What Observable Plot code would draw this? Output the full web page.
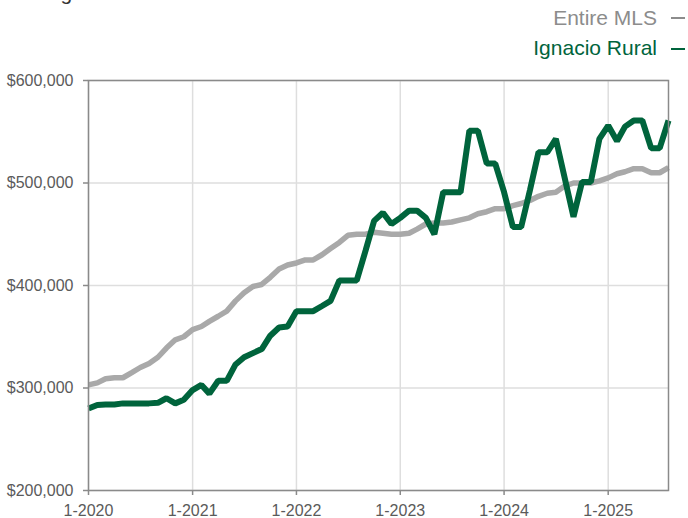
<!DOCTYPE html>
<html>
<head>
<meta charset="utf-8">
<script src="https://cdn.jsdelivr.net/npm/d3@7"></script>
<script src="https://cdn.jsdelivr.net/npm/@observablehq/plot@0.6"></script>
<style>
  html, body { margin: 0; padding: 0; background: #fff; }
  body { width: 688px; height: 518px; position: relative; overflow: hidden; font-family: "Liberation Sans", Arial, sans-serif; }
  #chart { position: absolute; left: 0; top: 0; }
  .title { position: absolute; left: 8px; top: -18px; font-size: 21px; line-height: 21px; color: #333; white-space: nowrap; }
  .leg { position: absolute; right: 31px; font-size: 21px; line-height: 21px; white-space: nowrap; }
  .dash { position: absolute; left: 671px; width: 14px; height: 2px; }
</style>
</head>
<body>
<div class="title">Rolling 12-Month Calculation</div>
<div class="leg" style="top:7px;color:#8c8c8c">Entire MLS</div>
<div class="dash" style="top:17px;background:#8c8c8c"></div>
<div class="leg" style="top:37px;color:#00643c">Ignacio Rural</div>
<div class="dash" style="top:48px;background:#00643c"></div>
<div id="chart"></div>
<script>
// Monthly rolling 12-month median sales price, Jan 2020 – Aug 2025 (in $ thousands)
const startYear = 2020;
const seriesNames = ["Entire MLS", "Ignacio Rural"];
const entireMLS = [
  303, 305, 309, 310, 310, 315, 320, 324, 330, 339, 347, 350,
  357, 360, 365, 370, 375, 385, 393, 399, 401, 408, 416, 420,
  422, 425, 425, 430, 436, 442, 449, 450, 450, 452, 451, 450,
  450, 451, 455, 460, 461, 461, 462, 464, 466, 470, 472, 475,
  475, 478, 480, 483, 487, 490, 491, 497, 500, 500, 500, 502,
  505, 509, 511, 514, 514, 510, 510, 515
];
const ignacioRural = [
  280, 283.5, 284, 284, 285, 285, 285, 285, 285.5, 290, 285, 288.5,
  298, 303, 294.5, 307, 307, 323, 330, 334, 338, 351, 359, 360,
  375, 375, 375, 380, 385, 405, 405, 405, 434, 463, 471, 460,
  466, 473, 473, 466, 450, 491, 491, 491, 551, 551, 519, 519,
  491, 457, 457, 493, 530, 530, 543, 505, 467, 501, 501, 543,
  556, 541, 555, 561, 561, 534, 534, 561
];
const yTicks = [200000, 300000, 400000, 500000, 600000];
const xTickYears = [2020, 2021, 2022, 2023, 2024, 2025];

const monthDate = i => new Date(Date.UTC(startYear, i, 1));
const rows = [];
entireMLS.forEach((v, i) => rows.push({series: seriesNames[0], date: monthDate(i), value: v * 1000}));
ignacioRural.forEach((v, i) => rows.push({series: seriesNames[1], date: monthDate(i), value: v * 1000}));
const xTicks = xTickYears.map(y => new Date(Date.UTC(y, 0, 1)));
const xFmt = d => `1-${d.getUTCFullYear()}`;
const yFmt = d3.format("$,.0f");

const chart = Plot.plot({
  width: 688,
  height: 518,
  marginLeft: 88,
  marginRight: 20,
  marginTop: 80,
  marginBottom: 28,
  style: {fontFamily: "Liberation Sans, Arial, sans-serif", fontSize: "16px", color: "#5a5a5a", background: "transparent", overflow: "visible"},
  x: {type: "utc", domain: [monthDate(0), monthDate(entireMLS.length - 1)], label: null},
  y: {domain: [200000, 600000], label: null},
  marks: [
    Plot.gridX(xTicks, {stroke: "#dedede", strokeOpacity: 1, strokeWidth: 1.5}),
    Plot.gridY(yTicks, {stroke: "#dedede", strokeOpacity: 1, strokeWidth: 1.5}),
    Plot.axisX(xTicks, {tickFormat: xFmt, tickSize: 5, tickPadding: 9, stroke: "#8a8a8a", strokeWidth: 1.5, fontSize: 16, fill: "#5a5a5a"}),
    Plot.axisY(yTicks, {tickFormat: yFmt, tickSize: 5, tickPadding: 10, stroke: "#8a8a8a", strokeWidth: 1.5, fontSize: 16, fill: "#5a5a5a"}),
    Plot.lineY(rows.filter(d => d.series === seriesNames[0]), {x: "date", y: "value", stroke: "#a9a9a9", strokeWidth: 5.5, strokeLinejoin: "miter", strokeLinecap: "butt"}),
    Plot.lineY(rows.filter(d => d.series === seriesNames[1]), {x: "date", y: "value", stroke: "#00643c", strokeWidth: 6, strokeLinejoin: "miter", strokeLinecap: "butt"}),
    Plot.frame({stroke: "#8a8a8a", strokeWidth: 1.5})
  ]
});
document.getElementById("chart").appendChild(chart);
</script>
</body>
</html>
